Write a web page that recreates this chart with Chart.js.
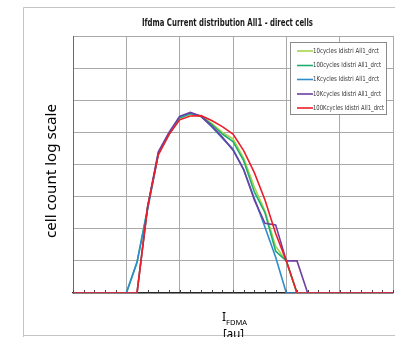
<!DOCTYPE html>
<html>
<head>
<meta charset="utf-8">
<script src="https://cdn.jsdelivr.net/npm/chart.js@4/dist/chart.umd.min.js"></script>
<style>
    html, body { margin: 0; padding: 0; background: #fff; }
    #chart { display: block; }
</style>
</head>
<body>
<canvas id="chart" width="395" height="337"></canvas>
<script>
// x positions (grid units, no labels shown on the original)
const xValues = [0, 0.2, 0.4, 0.6, 0.8, 1.0, 1.2, 1.4, 1.6, 1.8, 2.0, 2.2, 2.4, 2.6, 2.8, 3.0,
    3.2, 3.4, 3.6, 3.8, 4.0, 4.2, 4.4, 4.6, 4.8, 5.0, 5.2, 5.4, 5.6, 5.8, 6.0];

// cell counts per bin (1 = empty bin, sits on the axis)
const cycles10 = [1, 1, 1, 1, 1, 1, 1, 500, 22000, 89000, 282000, 372000, 316000, 190000, 100000, 63000,
    15800, 2000, 355, 28, 10, 1, 1, 1, 1, 1, 1, 1, 1, 1, 1];
const cycles100 = [1, 1, 1, 1, 1, 1, 9, 450, 22000, 89000, 282000, 380000, 316000, 178000, 89000, 52000,
    13200, 1400, 316, 20, 10, 1, 1, 1, 1, 1, 1, 1, 1, 1, 1];
const cycles1K = [1, 1, 1, 1, 1, 1, 9, 400, 22000, 89000, 309000, 398000, 316000, 151000, 66000, 30200,
    6800, 890, 112, 13, 1, 1, 1, 1, 1, 1, 1, 1, 1, 1, 1];
const cycles10K = [1, 1, 1, 1, 1, 1, 1, 500, 25000, 100000, 316000, 417000, 316000, 158000, 71000, 28000,
    7100, 790, 148, 132, 10, 10, 1, 1, 1, 1, 1, 1, 1, 1, 1];
const cycles100K = [1, 1, 1, 1, 1, 1, 1, 500, 20000, 85000, 245000, 324000, 331000, 234000, 151000, 89000,
    27000, 5600, 790, 71, 10, 1, 1, 1, 1, 1, 1, 1, 1, 1, 1];

const seriesNames = ['10cycles Idistri All1_drct', '100cycles Idistri All1_drct', '1Kcycles Idistri All1_drct',
    '10Kcycles Idistri All1_drct', '100Kcycles Idistri All1_drct'];
const seriesColors = ['#a8d44a', '#1fae6e', '#2f8ccc', '#6f3fa0', '#ea1f2b'];
const yDecades = [1, 10, 100, 1e3, 1e4, 1e5, 1e6, 1e7, 1e8];

const titleText = 'Ifdma Current distribution All1 - direct cells';
const narrow = "'Liberation Sans Narrow', 'DejaVu Sans Condensed', 'Liberation Sans', sans-serif";

function toPoints(values) {
    return values.map((v, i) => ({ x: xValues[i], y: v }));
}

// draw text squeezed to a given width
function fitText(ctx, text, x, y, width) {
    const w = ctx.measureText(text).width;
    ctx.save();
    ctx.translate(x, y);
    ctx.scale(width / w, 1);
    ctx.fillText(text, 0, 0);
    ctx.restore();
}

const decorPlugin = {
    id: 'decor',
    beforeDraw(chart) {
        const ctx = chart.ctx;
        ctx.save();
        ctx.fillStyle = '#fff';
        ctx.fillRect(0, 0, chart.width, chart.height);
        // outer frame of the picture
        ctx.strokeStyle = '#c4c4c4';
        ctx.lineWidth = 1;
        ctx.beginPath();
        ctx.moveTo(23.5, 337);
        ctx.lineTo(23.5, 7.5);
        ctx.lineTo(395, 7.5);
        ctx.moveTo(23, 335.5);
        ctx.lineTo(395, 335.5);
        ctx.stroke();
        ctx.restore();
    },
    beforeDatasetsDraw(chart) {
        // minor ticks along the x axis
        const ctx = chart.ctx;
        const xs = chart.scales.x;
        const bottom = chart.chartArea.bottom;
        ctx.save();
        ctx.strokeStyle = '#404040';
        ctx.lineWidth = 1;
        ctx.beginPath();
        xValues.forEach(v => {
            const px = Math.round(xs.getPixelForValue(v)) + 0.5;
            ctx.moveTo(px, bottom);
            ctx.lineTo(px, bottom - 3);
        });
        ctx.stroke();
        ctx.restore();
    },
    afterDraw(chart) {
        const ctx = chart.ctx;
        ctx.save();

        // title
        ctx.fillStyle = '#1a1a1a';
        ctx.textBaseline = 'alphabetic';
        ctx.font = 'bold 10px ' + narrow;
        fitText(ctx, titleText, 142, 26, 171);

        // legend box
        const bx = 290.5, by = 42.5, bw = 96, bh = 72;
        ctx.fillStyle = '#fff';
        ctx.fillRect(bx, by, bw, bh);
        ctx.strokeStyle = '#8a8a8a';
        ctx.lineWidth = 1;
        ctx.strokeRect(bx, by, bw, bh);
        const rows = [51, 65.5, 79.5, 94, 108];
        ctx.font = '7px ' + narrow;
        ctx.textBaseline = 'middle';
        chart.data.datasets.forEach((ds, i) => {
            const y = rows[i];
            ctx.strokeStyle = ds.borderColor;
            ctx.lineWidth = 1.6;
            ctx.beginPath();
            ctx.moveTo(297, y);
            ctx.lineTo(313, y);
            ctx.stroke();
            ctx.fillStyle = '#333';
            const target = ds.label.startsWith('100K') ? 71 : (ds.label.startsWith('100c') ? 68 : (ds.label.startsWith('10K') ? 68 : 66));
            fitText(ctx, ds.label, 313, y, target);
        });

        // y axis title
        ctx.fillStyle = '#000';
        ctx.font = '14px "Noto Sans", "Liberation Sans", sans-serif';
        ctx.textBaseline = 'middle';
        ctx.save();
        ctx.translate(52, 171);
        ctx.rotate(-Math.PI / 2);
        fitText(ctx, 'cell count log scale', -67, 0, 134);
        ctx.restore();

        // x axis title: I with subscript FDMA, then [au]
        ctx.textBaseline = 'alphabetic';
        ctx.font = '12px "Noto Sans", "Liberation Sans", sans-serif';
        ctx.fillText('I', 222, 321);
        ctx.font = '7px "Noto Sans", "Liberation Sans", sans-serif';
        fitText(ctx, 'FDMA', 226, 325, 21);
        ctx.font = '13px "Noto Sans", "Liberation Sans", sans-serif';
        fitText(ctx, '[au]', 223, 338, 21);

        ctx.restore();
    }
};

const seriesValues = [cycles10, cycles100, cycles1K, cycles10K, cycles100K];

new Chart(document.getElementById('chart'), {
    type: 'line',
    data: {
        datasets: seriesValues.map((vals, i) => ({
            label: seriesNames[i],
            data: toPoints(vals),
            borderColor: seriesColors[i],
            backgroundColor: seriesColors[i],
            borderWidth: 1.6,
            pointRadius: 0,
            tension: 0,
            order: seriesValues.length - 1 - i
        }))
    },
    options: {
        responsive: false,
        animation: false,
        devicePixelRatio: 1,
        layout: { padding: { left: 73, top: 36, right: 2, bottom: 44 } },
        plugins: {
            legend: { display: false },
            title: { display: false },
            tooltip: { enabled: false }
        },
        scales: {
            x: {
                type: 'linear',
                min: 0,
                max: 6,
                ticks: { display: false, stepSize: 1 },
                grid: { color: '#a9a9a9', lineWidth: 1, drawTicks: false },
                border: { color: '#262626', width: 1.2 },
                afterFit(scale) { scale.height = 0; }
            },
            y: {
                type: 'logarithmic',
                min: 1,
                max: 1e8,
                afterBuildTicks(scale) {
                    scale.ticks = yDecades.map(v => ({ value: v }));
                },
                ticks: { display: false },
                grid: { color: '#a9a9a9', lineWidth: 1, drawTicks: false },
                border: { color: '#6a6a6a', width: 1 },
                afterFit(scale) { scale.width = 0; }
            }
        }
    },
    plugins: [decorPlugin]
});
</script>
</body>
</html>
